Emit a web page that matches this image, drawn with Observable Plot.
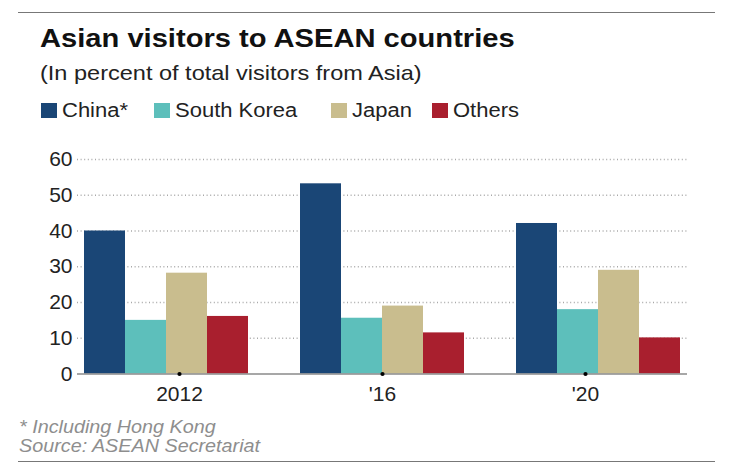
<!DOCTYPE html>
<html><head><meta charset="utf-8">
<script src="https://cdn.jsdelivr.net/npm/d3@7"></script>
<script src="https://cdn.jsdelivr.net/npm/@observablehq/plot@0.6"></script>
<style>
html,body{margin:0;padding:0;background:#fff;}
#chart{position:relative;width:738px;height:471px;overflow:hidden;font-family:"Liberation Sans",Arial,sans-serif;background:#fff;}
.t{position:absolute;white-space:nowrap;transform-origin:0 0;line-height:1;}
.layer{position:absolute;left:0;top:0;}
.rule{position:absolute;left:18px;width:697px;height:0;border-top:1.5px solid #777;}
.sw{position:absolute;width:15.5px;height:15.5px;}
</style></head><body><div id="chart"></div>
<script>
// ---- data ----
const years = ["2012", "2016", "2020"];
const yearLabels = ["2012", "'16", "'20"];
const countries = ["China*", "South Korea", "Japan", "Others"];
const china = [40.0, 53.2, 42.1];
const southKorea = [15.0, 15.6, 18.0];
const japan = [28.2, 19.0, 29.0];
const others = [16.1, 11.5, 10.1];
const colors = ["#1a4676", "#5dbfbb", "#c9bd8e", "#a91f2e"];

const title = "Asian visitors to ASEAN countries";
const subtitle = "(In percent of total visitors from Asia)";
const note = "* Including Hong Kong";
const source = "Source: ASEAN Secretariat";

const series = [china, southKorea, japan, others];
const table = years.flatMap((yr, i) => series.map((s, j) => ({year: yr, country: countries[j], value: s[i]})));

// ---- layout ----
const chart = document.getElementById("chart");
function text(str, x, baseline, fs, opts = {}) {
  const d = document.createElement("div");
  d.className = "t";
  d.textContent = str;
  d.style.left = x + "px";
  d.style.top = (baseline - 0.8465 * fs) + "px";
  d.style.fontSize = fs + "px";
  d.style.color = opts.color || "#1a1a1a";
  if (opts.weight) d.style.fontWeight = opts.weight;
  if (opts.italic) d.style.fontStyle = "italic";
  d.style.transform = `scaleX(${opts.sx || 1.11})`;
  chart.appendChild(d);
  return d;
}
function rule(y) {
  const r = document.createElement("div");
  r.className = "rule";
  r.style.top = y + "px";
  chart.appendChild(r);
}
rule(11.5);
text(title, 40, 46.7, 26, {weight: "bold", color: "#111", sx: 1.12});
text(subtitle, 40, 80, 21, {color: "#222", sx: 1.12});

const legendX = [41, 154, 331, 432];
countries.forEach((c, i) => {
  const s = document.createElement("div");
  s.className = "sw";
  s.style.left = legendX[i] + "px";
  s.style.top = "102.8px";
  s.style.background = colors[i];
  chart.appendChild(s);
  text(c, legendX[i] + 20.5, 117, 20, {color: "#222", sx: 1.1});
});

text(note, 19, 434, 17.5, {italic: true, color: "#8e8e8e", sx: 1.13});
text(source, 19, 453, 17.5, {italic: true, color: "#8e8e8e", sx: 1.13});
rule(460.5);

// ---- plots ----
const common = {
  width: 738, height: 471,
  marginTop: 159, marginBottom: 97.5, marginLeft: 77, marginRight: 51,
  style: {background: "transparent", overflow: "visible", fontFamily: "'Liberation Sans', Arial, sans-serif", fontSize: "21px", color: "#222"}
};
const xBand = {domain: years, paddingInner: 0.233, paddingOuter: 0.025};
const yLin = {domain: [0, 60]};

function addLayer(svg) {
  svg.classList.add("layer");
  svg.style.position = "absolute";
  svg.style.left = "0px";
  svg.style.top = "0px";
  chart.appendChild(svg);
}

// grid + axes
addLayer(Plot.plot({
  ...common,
  x: {...xBand, tickSize: 0, tickPadding: 12, label: null, tickFormat: d => yearLabels[years.indexOf(d)]},
  y: {...yLin, ticks: 6, tickSize: 0, tickPadding: 5, label: null},
  marks: [
    Plot.ruleY(d3.ticks(0, 60, 6).filter(v => v > 0), {stroke: "#a8a8a8", strokeWidth: 1.3, strokeDasharray: "1,2.6"})
  ]
}));

// bars
addLayer(Plot.plot({
  ...common,
  fx: {...xBand, axis: null, label: null},
  x: {domain: countries, padding: 0, axis: null},
  y: {...yLin, axis: null},
  color: {domain: countries, range: colors},
  marks: [
    Plot.barY(table, {fx: "year", x: "country", y: "value", fill: "country"})
  ]
}));

// baseline + tick dots
addLayer(Plot.plot({
  ...common,
  x: {...xBand, axis: null},
  y: {...yLin, axis: null},
  marks: [
    Plot.ruleY([0], {stroke: "#8a8a8a", strokeWidth: 1.5}),
    Plot.dot(years, {x: d => d, y: () => 0, r: 2.1, fill: "#000"})
  ]
}));
</script></body></html>
